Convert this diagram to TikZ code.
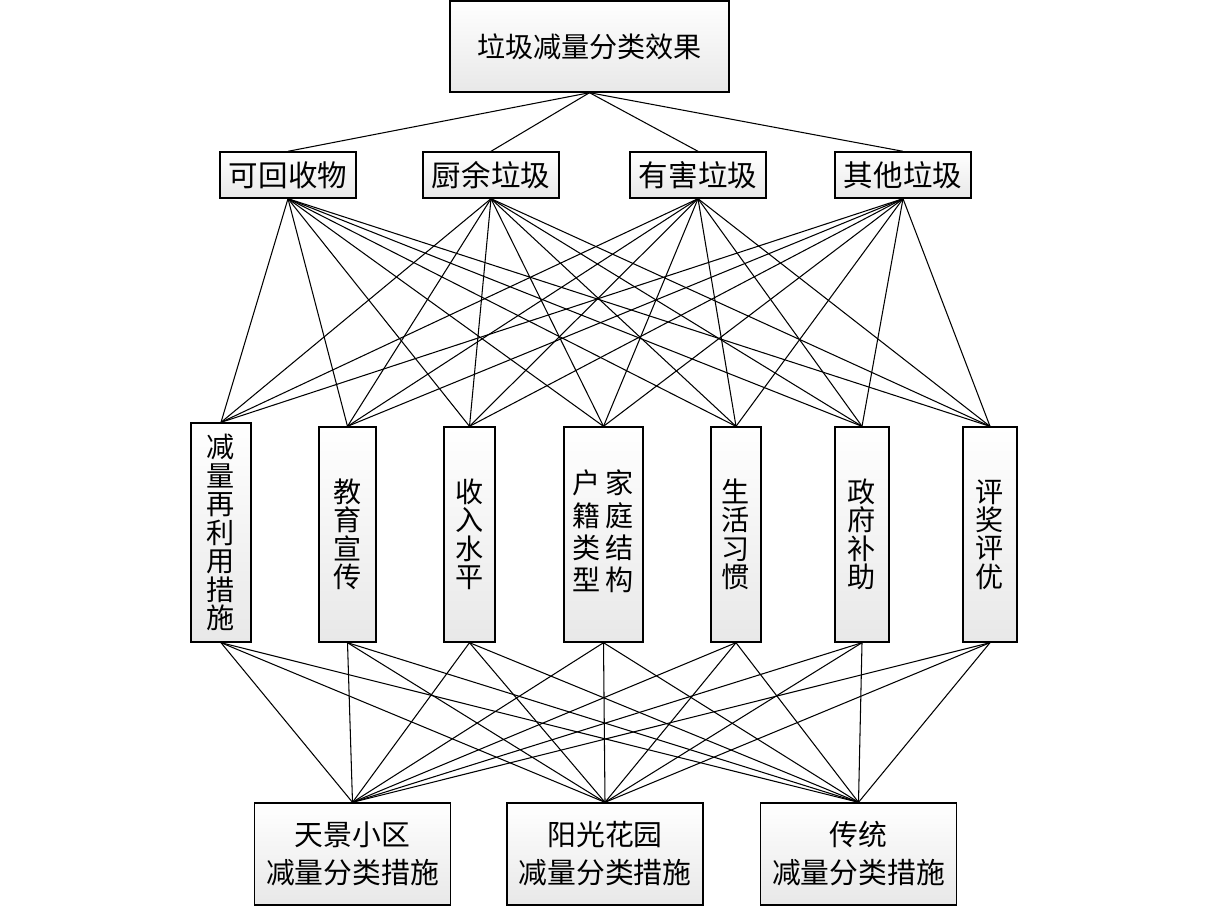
\documentclass[tikz,border=0pt]{standalone}
\usepackage{fontspec}
\setmainfont{Noto Sans CJK SC}
\tikzset{bx/.append style={draw, line width=0.8pt, top color=white, bottom color=black!9, inner sep=0pt, align=center, font=\fontsize{16}{16.2}\selectfont}}
\tikzset{vb/.append style={bx, minimum height=4.3cm}}
\tikzset{hb/.append style={bx, minimum width=2.72cm, minimum height=0.92cm, font=\fontsize{16.8}{17}\selectfont}}
\tikzset{lb/.append style={bx, minimum width=3.92cm, minimum height=2.04cm, font=\fontsize{16.4}{21.6}\selectfont}}
\tikzset{ln/.append style={line width=0.6pt}}

\begin{document}
\begin{tikzpicture}[x=0.02cm, y=-0.02cm]
                \useasboundingbox (0,0) rectangle (1209,907);
                % top
                \node[bx, minimum width=5.58cm, minimum height=1.82cm] (top) at (589.5,46.5) {垃圾减量分类效果};
                % categories
                \node[hb] (k) at (288,175) {可回收物};
                \node[hb] (c) at (491,175) {厨余垃圾};
                \node[hb] (y) at (698,175) {有害垃圾};
                \node[hb] (q) at (903,175) {其他垃圾};
                % factors
                \node[vb, minimum width=1.2cm, minimum height=4.38cm] (f1) at (221,532.5) {减\\量\\再\\利\\用\\措\\施};
                \node[vb, minimum width=1.14cm] (f2) at (347.5,534.5) {教\\育\\宣\\传};
                \node[vb, minimum width=1.02cm] (f3) at (469.5,534.5) {收\\入\\水\\平};
                \node[vb, minimum width=1.58cm] (f4) at (603.5,534.5) {\begin{tabular}{@{}c@{\hspace{0.1cm}}c@{}}户&家\\籍&庭\\类&结\\型&构\end{tabular}};
                \node[vb, minimum width=1.0cm] (f5) at (736,534.5) {生\\活\\习\\惯};
                \node[vb, minimum width=1.08cm] (f6) at (862,534.5) {政\\府\\补\\助};
                \node[vb, minimum width=1.08cm] (f7) at (990,534.5) {评\\奖\\评\\优};
                % measures
                \node[lb] (m1) at (352.5,854) {天景小区\\减量分类措施};
                \node[lb] (m2) at (605,854) {阳光花园\\减量分类措施};
                \node[lb] (m3) at (858.5,854) {传统\\减量分类措施};
                \path[ln] (top.south) edge (k.north) edge (c.north) edge (y.north) edge (q.north);
                \path[ln] (k.south) edge (f1.north) edge (f2.north) edge (f3.north) edge (f4.north) edge (f5.north) edge (f6.north) edge (f7.north);
                \path[ln] (c.south) edge (f1.north) edge (f2.north) edge (f3.north) edge (f4.north) edge (f5.north) edge (f6.north) edge (f7.north);
                \path[ln] (y.south) edge (f1.north) edge (f2.north) edge (f3.north) edge (f4.north) edge (f5.north) edge (f6.north) edge (f7.north);
                \path[ln] (q.south) edge (f1.north) edge (f2.north) edge (f3.north) edge (f4.north) edge (f5.north) edge (f6.north) edge (f7.north);
                \path[ln] (f1.south) edge (m1.north) edge (m2.north) edge (m3.north);
                \path[ln] (f2.south) edge (m1.north) edge (m2.north) edge (m3.north);
                \path[ln] (f3.south) edge (m1.north) edge (m2.north) edge (m3.north);
                \path[ln] (f4.south) edge (m1.north) edge (m2.north) edge (m3.north);
                \path[ln] (f5.south) edge (m1.north) edge (m2.north) edge (m3.north);
                \path[ln] (f6.south) edge (m1.north) edge (m2.north) edge (m3.north);
                \path[ln] (f7.south) edge (m1.north) edge (m2.north) edge (m3.north);
            \end{tikzpicture}
\end{document}
